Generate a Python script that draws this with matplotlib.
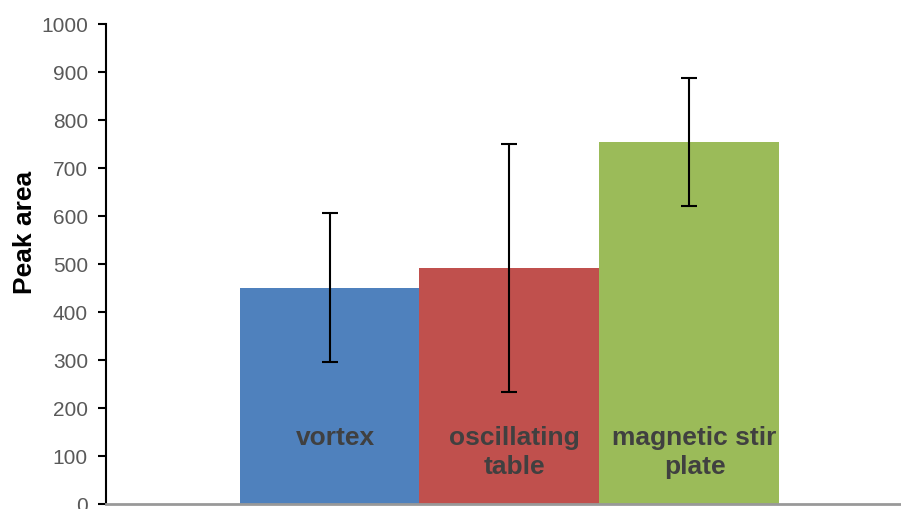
import matplotlib
matplotlib.use("Agg")
import matplotlib.pyplot as plt

plt.rcParams['font.family'] = ['Liberation Sans', 'DejaVu Sans']

methods = ["vortex", "oscillating\ntable", "magnetic stir\nplate"]
peak_area = [451, 492, 754]
errors = [155, 258, 134]
colors = ["#4F81BD", "#C0504D", "#9BBB59"]
yticks = list(range(0, 1001, 100))

W, H = 901, 509
fig = plt.figure(figsize=(W / 100, H / 100), dpi=100)
ax = fig.add_axes([106 / W, 5 / H, (900 - 106) / W, (504 - 24) / H])

x = list(range(len(methods)))
ax.bar(x, peak_area, width=1.0, color=colors, zorder=2)
ax.errorbar(x, peak_area, yerr=errors, fmt='none', ecolor='black',
            elinewidth=1.5, capsize=6, capthick=1.5, zorder=3)

# category names written inside the bars, first line at the same height
for xi, name in zip(x, methods):
    ax.annotate(name, (xi, 162), xytext=(4, 0), textcoords='offset points',
                ha='center', va='top', fontsize=19, fontweight='bold',
                color='#404040', linespacing=1.25, zorder=4)

ax.set_xlim(-1.244, 3.174)
ax.set_ylim(0, 1000)
ax.set_yticks(yticks)
ax.set_xticks([])
ax.tick_params(axis='y', length=6, width=1.5, color='black', labelsize=15,
               labelcolor='#595959', pad=7)
ax.set_ylabel("Peak area", fontsize=19, fontweight='bold', color='black')
ax.yaxis.set_label_coords(-0.087, 0.565)

for s in ['top', 'right']:
    ax.spines[s].set_visible(False)
ax.spines['left'].set_color('black')
ax.spines['left'].set_linewidth(1.5)
ax.spines['bottom'].set_color('#999999')
ax.spines['bottom'].set_linewidth(2)

fig.savefig("out.png", dpi=100)
